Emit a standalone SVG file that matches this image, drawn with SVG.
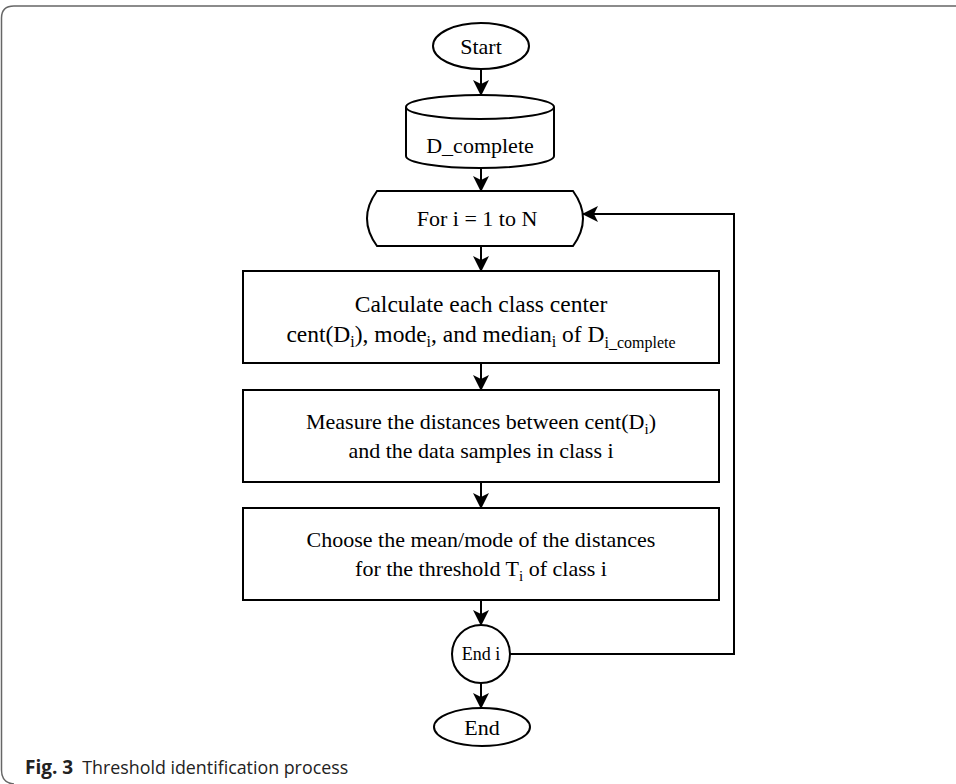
<svg xmlns="http://www.w3.org/2000/svg" width="956" height="784" viewBox="0 0 956 784">
<style>
.shape{fill:#fff;stroke:#000;stroke-width:2}
.conn{fill:none;stroke:#000;stroke-width:2}
.t{font-family:"Liberation Serif","Times New Roman",serif;font-size:22px;fill:#000;text-anchor:middle}
.big{font-size:23.5px}
.frame{fill:none;stroke:#666;stroke-width:1.5}
.cap{font-family:"Open Sans","Noto Sans",sans-serif;font-size:19px;fill:#222}
</style>
<defs>
<marker id="arr" markerUnits="userSpaceOnUse" markerWidth="18" markerHeight="18" viewBox="0 0 18 18" refX="16" refY="9" orient="auto">
<path d="M1,1 L17,9 L1,17 L5,9 Z" fill="#000"/>
</marker>
</defs>
<path class="frame" d="M956,6 H14 Q1.5,6 1.5,18 V770 Q1.5,783 14,784"/>
<g id="start">
<ellipse class="shape" cx="481" cy="46" rx="48" ry="23"/>
<text class="t" x="481" y="54">Start</text>
</g>
<g id="dcomplete">
<path class="shape" d="M406,107 A74,12 0 0 1 554,107 V156 A74,12 0 0 1 406,156 Z"/>
<path class="shape" fill="none" d="M406,107 A74,12 0 0 0 554,107"/>
<text class="t" x="480" y="153">D_complete</text>
</g>
<g id="forloop">
<path class="shape" d="M377,191 H573 Q593,218.5 573,246 H377 Q357,218.5 377,191 Z"/>
<text class="t" x="477" y="226">For i = 1 to N</text>
</g>
<g id="calc">
<rect class="shape" x="243" y="271" width="476" height="92"/>
<text class="t big" x="481" y="312">Calculate each class center</text>
<text class="t big" x="481" y="342">cent(D<tspan dy="5" font-size="16">i</tspan><tspan dy="-5">), mode</tspan><tspan dy="5" font-size="16">i</tspan><tspan dy="-5">, and median</tspan><tspan dy="5" font-size="16">i</tspan><tspan dy="-5"> of D</tspan><tspan dy="6" font-size="16">i_complete</tspan></text>
</g>
<g id="measure">
<rect class="shape" x="243" y="390" width="476" height="92"/>
<text class="t" x="481" y="429">Measure the distances between cent(D<tspan dy="5" font-size="15">i</tspan><tspan dy="-5">)</tspan></text>
<text class="t" x="481" y="458">and the data samples in class i</text>
</g>
<g id="choose">
<rect class="shape" x="243" y="508" width="476" height="92"/>
<text class="t" x="481" y="547">Choose the mean/mode of the distances</text>
<text class="t" x="481" y="576">for the threshold T<tspan dy="5" font-size="15">i</tspan><tspan dy="-5"> of class i</tspan></text>
</g>
<g id="endi">
<ellipse class="shape" cx="481" cy="654" rx="29" ry="29"/>
<text class="t" x="481" y="660" style="font-size:18px">End i</text>
</g>
<g id="end">
<ellipse class="shape" cx="482" cy="727" rx="48" ry="19"/>
<text class="t" x="482" y="735">End</text>
</g>
<g id="connectors">
<path class="conn" d="M481,69 V95" marker-end="url(#arr)"/>
<path class="conn" d="M481,168 V191" marker-end="url(#arr)"/>
<path class="conn" d="M481,246 V271" marker-end="url(#arr)"/>
<path class="conn" d="M481,363 V390" marker-end="url(#arr)"/>
<path class="conn" d="M481,482 V508" marker-end="url(#arr)"/>
<path class="conn" d="M481,600 V625" marker-end="url(#arr)"/>
<path class="conn" d="M481,683 V708" marker-end="url(#arr)"/>
<path class="conn" d="M510,654 H734 V214 H583" marker-end="url(#arr)"/>
</g>
<text class="cap" x="25" y="774"><tspan font-weight="bold">Fig. 3</tspan><tspan dx="9" textLength="266" lengthAdjust="spacingAndGlyphs">Threshold identification process</tspan></text>
</svg>
